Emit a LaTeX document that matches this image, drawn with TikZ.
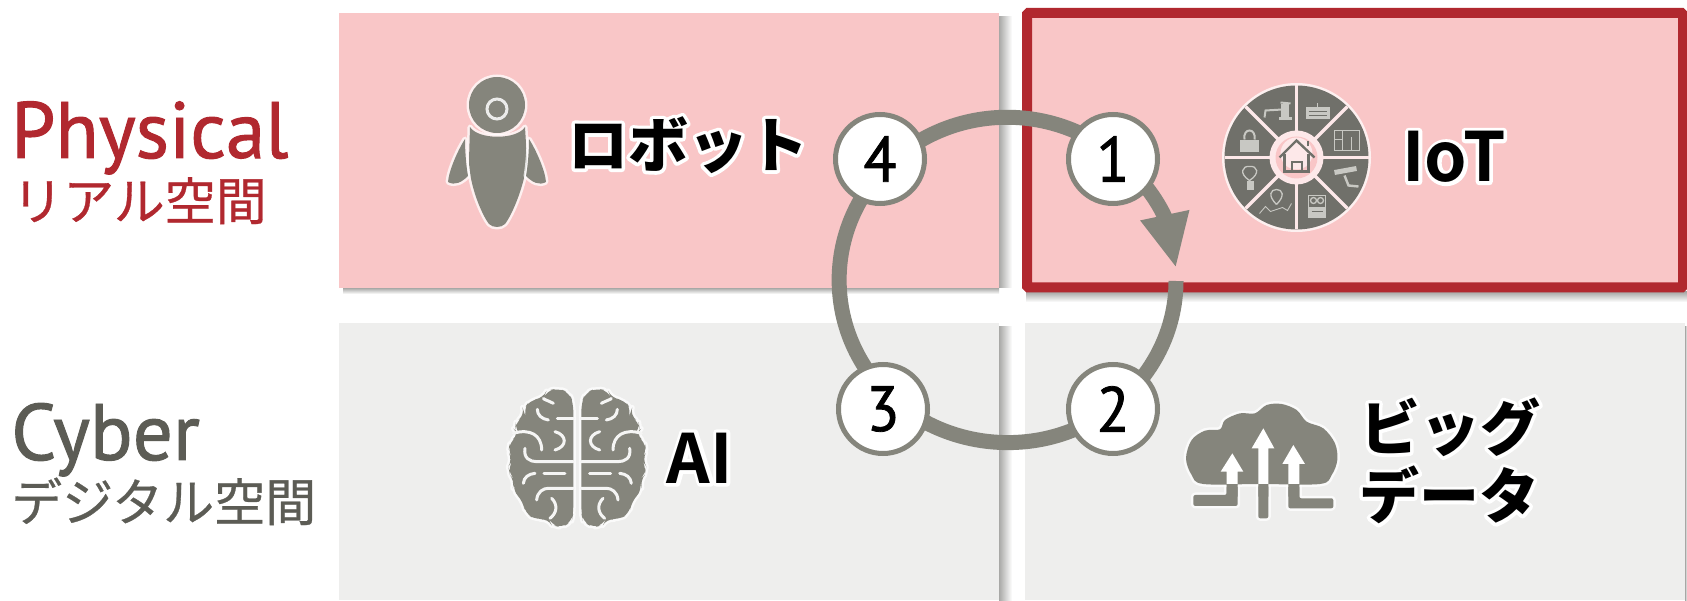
\documentclass[tikz,border=0pt]{standalone}
\usepackage{fontspec}
\usetikzlibrary{arrows.meta}
\setmainfont{PT Sans}
\newfontfamily\jpbold{Noto Sans CJK JP Black}
\newfontfamily\jpreg{Noto Sans CJK JP}[FakeBold=0.6]
\newfontfamily\latbold{Noto Sans CJK JP Bold}
\newfontfamily\hdfont{PT Sans}[FakeBold=1.2,FakeStretch=0.99]
\newfontfamily\numfont{PT Sans}[FakeBold=1.2,FakeStretch=0.95]
\definecolor{pinkbg}{HTML}{F9C6C7}
\definecolor{graybg}{HTML}{EEEEED}
\definecolor{redc}{HTML}{B1282F}
\definecolor{icon}{HTML}{85857C}
\definecolor{wheelc}{HTML}{70706A}
\definecolor{txtgray}{HTML}{5C5C55}
\definecolor{shadowc}{HTML}{A8A8A6}
\definecolor{pale}{HTML}{C8C8C3}
\pgfdeclarelayer{toplayer}
\pgfsetlayers{main,toplayer}
\newcommand{\halo}[1]{\leavevmode\rlap{\special{pdf:code q 1 Tr 7 w 1 1 1 RG 1 J 1 j}#1\special{pdf:code Q}}#1}
\tikzset{
  lab/.style={font=\jpbold\fontsize{60}{68}\selectfont,text=black,align=left,inner sep=0pt},
  latin/.style={font=\latbold\fontsize{68}{68}\selectfont,text=black,inner sep=0pt},
  num/.style={circle,draw=icon,line width=5pt,fill=white,minimum size=89pt,inner sep=0pt,font=\numfont\fontsize{64}{64}\selectfont,text=black},
  ring/.style={draw=icon,line width=15pt},
  ic/.style={preaction={draw=white,draw opacity=.75,line width=5pt,line join=round},fill=icon,draw=none},
  groove/.style={draw=graybg!60!white,line width=3pt,line cap=round},
  fine/.style={draw=pale,line width=1.3pt},
  shr/.style={left color=shadowc,right color=white},
  shb/.style={top color=shadowc,bottom color=white},
}
\begin{document}
\begin{tikzpicture}[x=1pt,y=-1pt]
\useasboundingbox (0,0) rectangle (1687,601);
\fill[white] (0,0) rectangle (1687,601);
% soft shadows
\shade[shr] (999,17) rectangle (1012,288);
\shade[shb] (343,288) rectangle (999,294);
\shade[shr] (999,327) rectangle (1012,601);
\shade[shb] (1026,292) rectangle (1687,302);
\shade[shr] (1685,327) rectangle (1687,601);
% panels
\fill[pinkbg] (339,13) rectangle (999,288);
\fill[graybg] (339,323) rectangle (999,600);
\fill[graybg] (1025,323) rectangle (1685,600);
\draw[redc,line width=10pt,fill=pinkbg,rounded corners=1.5pt] (1027,13) rectangle (1683,287.5);
% side labels
\node[anchor=base west,inner sep=0pt,text=redc,font=\hdfont\fontsize{80}{80}\selectfont] (phys) at (11,158) {Physical};
\node[anchor=base west,inner sep=0pt,text=redc,font=\jpreg\fontsize{51}{51}\selectfont] (real) at (12,220) {リアル空間};
\node[anchor=base west,inner sep=0pt,text=txtgray,font=\hdfont\fontsize{80}{80}\selectfont] (cyb) at (11,460) {Cyber};
\node[anchor=base west,inner sep=0pt,text=txtgray,font=\jpreg\fontsize{51}{51}\selectfont] (digi) at (11,521) {デジタル空間};
% robot
\path[ic] (497,105) circle (28pt);
\path[ic] (470,127) .. controls (478,140) and (517,140) .. (525,127) -- (527,160) .. controls (525,185) and (512,215) .. (505,224) .. controls (501,228) and (493,228) .. (489,224) .. controls (482,215) and (469,185) .. (469,160) -- cycle;
\path[ic] (465,139) .. controls (458,150) and (449,170) .. (448,182) .. controls (455,186) and (462,182) .. (468,176) .. controls (466,165) and (465,150) .. (465,139) -- cycle;
\path[ic] (529,139) .. controls (536,150) and (545,170) .. (546,182) .. controls (539,186) and (532,182) .. (526,176) .. controls (528,165) and (529,150) .. (529,139) -- cycle;
\draw[draw=white,draw opacity=.85,line width=3pt] (497,109) circle (10pt);
% IoT wheel
\begin{scope}[shift={(1296.5,157.5)}]
\path[ic,fill=wheelc] (0,0) circle (72pt);
\foreach \a in {0,45,...,315} \draw[draw=pinkbg!40!white,line width=3.5pt] (0,0) -- (\a:72pt);
\fill[pinkbg!40!white] (0,0) circle (27pt);
\fill[pinkbg] (0,0) circle (21pt);
\fill[pinkbg!40!white] (0,-4) circle (16pt);
% house
\draw[wheelc,line width=2.4pt,line join=miter] (-17,0) -- (0,-17) -- (18,0);
\draw[wheelc,line width=2.4pt] (-12,-3) -- (-12,14) -- (12,14) -- (12,-3);
\draw[wheelc,line width=2pt] (-5,14) -- (-5,5) -- (5,5) -- (5,14);
\draw[wheelc,line width=2pt] (11,-11) -- (11,-16);
% faucet
\draw[fine,line width=2pt] (-32,-40) -- (-31,-47) -- (-14,-48);
\fill[pale] (-16,-53) rectangle (-8,-40);
\fill[pale] (-18,-40) rectangle (-5,-37);
\draw[fine,line width=2pt] (-16,-55) -- (-6,-54);
% router
\fill[pale] (9,-50) rectangle (33,-38);
\draw[wheelc,line width=1.5pt] (12,-46) -- (30,-46) (12,-42) -- (30,-42);
\draw[fine] (21,-50) -- (21,-54);
% building
\draw[fine,line width=.8pt] (38,-27) rectangle (63,-7) (46,-27) -- (46,-7) (55,-20) -- (55,-7) (38,-18) -- (46,-18);
% camera
\draw[pale,line width=5pt] (38,15) -- (60,11);
\draw[fine,line width=2.4pt] (48,18) -- (52,28) -- (62,29);
% board
\draw[fine,line width=1.6pt] (12,38) rectangle (29,60);
\fill[pale] (12,50) rectangle (29,60);
\draw[fine] (17,43) circle (3pt) (24,43) circle (3pt);
\draw[wheelc,line width=1pt] (15,54) -- (26,54);
% pin
\draw[fine] (-20,47) .. controls (-29,38) and (-26,32) .. (-20,32) .. controls (-14,32) and (-11,38) .. (-20,47);
\draw[fine,line width=.9pt] (-37,56) -- (-31,49) -- (-26,54) -- (-14,50) -- (-9,53) -- (-5,46);
% bulb
\draw[fine] (-47,23) .. controls (-58,16) and (-54,8) .. (-47,9) .. controls (-39,8) and (-36,16) .. (-47,23);
\fill[pale] (-50,24) rectangle (-43,33);
% lock
\draw[fine,line width=2pt] (-52,-18) .. controls (-54,-30) and (-40,-30) .. (-42,-18);
\fill[pale] (-57,-17) rectangle (-38,-5);
\end{scope}
% brain
\foreach \bx/\bs in {480/1,674.67/-1}{
\begin{scope}[shift={(\bx,370)},xscale=\bs,x=0.3333pt,y=-0.3333pt]
\path[ic,rounded corners=8pt] (280,100) -- (268,68) -- (235,55) -- (200,62) -- (190,85) -- (150,90) -- (130,120) -- (135,135) -- (108,155) -- (105,180) -- (118,192) -- (90,215) -- (85,245) -- (98,270) -- (85,290) -- (90,315) -- (105,332) -- (97,360) -- (130,395) -- (135,430) -- (170,450) -- (205,445) -- (215,465) -- (245,473) -- (275,455) -- (280,430) -- cycle;
\draw[groove] (232,145) -- (280,145);
\draw[groove] (172,118) .. controls (172,135) and (185,147) .. (205,150);
\draw[groove] (220,100) .. controls (205,92) and (190,88) .. (190,85);
\draw[groove] (225,185) .. controls (262,195) and (262,230) .. (225,240);
\draw[groove] (100,190) .. controls (150,175) and (185,195) .. (185,240);
\draw[groove] (135,235) .. controls (130,265) and (150,275) .. (170,275) -- (280,275);
\draw[groove] (192,312) -- (255,312);
\draw[groove] (130,340) .. controls (132,322) and (145,312) .. (165,310);
\draw[groove] (170,390) .. controls (172,365) and (190,355) .. (205,355) -- (280,355);
\draw[groove] (215,385) .. controls (235,405) and (230,430) .. (210,445);
\end{scope}}
% cloud
\begin{scope}[shift={(1160,380)},x=0.3333pt,y=-0.3333pt]
\path[ic,rounded corners=2pt] (100,345) -- (200,345) -- (200,305) -- (233,305) -- (233,378) -- (100,378) -- cycle;
\path[ic,rounded corners=2pt] (295,305) rectangle (325,415);
\path[ic,rounded corners=2pt] (385,305) -- (418,305) -- (418,355) -- (520,355) -- (520,385) -- (385,385) -- cycle;
\path[ic] plot[smooth cycle,tension=.55] coordinates {(130,312) (95,285) (78,235) (95,180) (135,152) (180,148) (195,120) (240,100) (285,100) (320,75) (365,72) (410,90) (440,125) (490,145) (525,190) (532,240) (515,285) (480,312) (300,312)};
\fill[icon] (200,308) rectangle (233,350) (295,308) rectangle (325,350) (385,308) rectangle (418,350);
\fill[white] (200,312) -- (200,275) -- (182,275) -- (217,220) -- (250,275) -- (233,275) -- (233,312) -- cycle;
\fill[white] (295,312) -- (295,205) -- (275,205) -- (310,145) -- (343,205) -- (325,205) -- (325,312) -- cycle;
\fill[white] (385,312) -- (385,252) -- (367,252) -- (400,195) -- (435,252) -- (418,252) -- (418,312) -- cycle;
\end{scope}
% labels
\node[lab] (robot) at (688,145) {\halo{ロボット}};
\node[latin] (iot) at (1454,157) {\halo{IoT}};
\node[latin] (ai) at (700,458) {\halo{AI}};
\node[lab] (big1) at (1450,427) {\halo{ビッグ}};
\node[lab] (big2) at (1449,495) {\halo{データ}};
% cycle
\begin{pgfonlayer}{toplayer}
\node[num] (n4) at (880,159) {4};
\node[num] (n1) at (1113,159) {1};
\node[num] (n3) at (883,409) {3};
\node[num] (n2) at (1113,409) {2};
\end{pgfonlayer}
\coordinate (c4) at (888,165);
\coordinate (c1) at (1117,157);
\coordinate (c2) at (1113,407);
\coordinate (c3) at (888,395);
\coordinate (tip) at (1176,268);
\coordinate (gap) at (1176,281);
\draw[ring] (c4) to[out=44,in=140,looseness=.97] (c1);
\draw[ring] (c2) to[out=-142,in=-44,looseness=.955] (c3);
\draw[ring] (c3) to[out=136,in=-136,looseness=1.01] (c4);
\draw[ring] (gap) to[out=-90,in=38,looseness=.9] (c2);
\draw[ring,-{Triangle[length=54pt,width=46pt,sep=0pt]}] (c1) to[out=-40,in=102] (tip);
\end{tikzpicture}
\end{document}
